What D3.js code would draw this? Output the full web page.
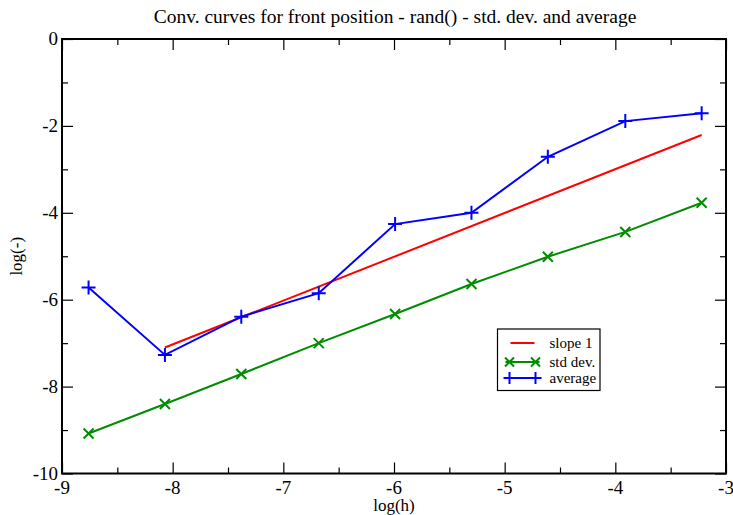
<!DOCTYPE html>
<html>
<head>
<meta charset="utf-8">
<script src="https://cdn.jsdelivr.net/npm/d3@7"></script>
<style>
  html, body { margin: 0; padding: 0; background: #fff; }
  svg text { font-family: "Liberation Serif", "Times New Roman", Tinos, "DejaVu Serif", serif; }
</style>
</head>
<body>
<div id="chart"></div>
<script>
// --- Daten ---
const logH = [-8.76, -8.07, -7.38, -6.68, -5.99, -5.30, -4.61, -3.91, -3.22];
const stdDev = [-9.08, -8.40, -7.71, -7.00, -6.33, -5.64, -5.01, -4.44, -3.77];
const average = [-5.72, -7.27, -6.39, -5.85, -4.26, -4.00, -2.71, -1.89, -1.71];
const slopeX = [-8.07, -3.22];
const slopeY = [-7.10, -2.21];
const xTicks = [-9, -8, -7, -6, -5, -4, -3];
const yTicks = [0, -2, -4, -6, -8, -10];

const W = 733, H = 515;
const m = { left: 62, right: 7, top: 39, bottom: 41.5 };
const FONT = '"Liberation Serif", "Times New Roman", Tinos, "DejaVu Serif", serif';

const svg = d3.select('#chart').append('svg')
  .attr('width', W).attr('height', H)
  .attr('font-family', FONT);

const x = d3.scaleLinear().domain([-9, -3]).range([m.left, W - m.right]);
const y = d3.scaleLinear().domain([-10, 0]).range([H - m.bottom, m.top]);

// Ticks (nach innen, alle vier Seiten)
const xMinor = d3.range(-8.5, -3, 1);
const yMinor = d3.range(-9, 0, 2);
const majorLen = 11, minorLen = 6;

function tickAxis(axisGen, transform) {
  svg.append('g').attr('transform', transform).call(axisGen)
    .call(g => g.select('.domain').remove())
    .call(g => g.selectAll('line').attr('stroke', '#000').attr('stroke-width', 1.2));
}

// unten / oben
tickAxis(d3.axisTop(x).tickValues(xTicks).tickSize(majorLen).tickFormat(''), `translate(0,${y(-10)})`);
tickAxis(d3.axisTop(x).tickValues(xMinor).tickSize(minorLen).tickFormat(''), `translate(0,${y(-10)})`);
tickAxis(d3.axisBottom(x).tickValues(xTicks).tickSize(majorLen).tickFormat(''), `translate(0,${y(0)})`);
tickAxis(d3.axisBottom(x).tickValues(xMinor).tickSize(minorLen).tickFormat(''), `translate(0,${y(0)})`);
// links / rechts
tickAxis(d3.axisRight(y).tickValues(yTicks).tickSize(majorLen).tickFormat(''), `translate(${x(-9)},0)`);
tickAxis(d3.axisRight(y).tickValues(yMinor).tickSize(minorLen).tickFormat(''), `translate(${x(-9)},0)`);
tickAxis(d3.axisLeft(y).tickValues(yTicks).tickSize(majorLen).tickFormat(''), `translate(${x(-3)},0)`);
tickAxis(d3.axisLeft(y).tickValues(yMinor).tickSize(minorLen).tickFormat(''), `translate(${x(-3)},0)`);

// Tick-Beschriftungen
svg.append('g').selectAll('text').data(xTicks).enter().append('text')
  .attr('x', d => x(d)).attr('y', y(-10) + 20)
  .attr('text-anchor', 'middle').attr('font-size', 19)
  .text(d => d);

svg.append('g').selectAll('text').data(yTicks).enter().append('text')
  .attr('x', x(-9) - 4).attr('y', d => y(d) + 6)
  .attr('text-anchor', 'end').attr('font-size', 19)
  .text(d => d);

// Rahmen
svg.append('rect')
  .attr('x', x(-9)).attr('y', y(0))
  .attr('width', x(-3) - x(-9)).attr('height', y(-10) - y(0))
  .attr('fill', 'none').attr('stroke', '#000').attr('stroke-width', 2);

// Titel und Achsentitel
svg.append('text').attr('x', 395).attr('y', 23)
  .attr('text-anchor', 'middle').attr('font-size', 19.5)
  .text('Conv. curves for front position - rand() - std. dev. and average');

svg.append('text').attr('x', 394).attr('y', 511)
  .attr('text-anchor', 'middle').attr('font-size', 17)
  .text('log(h)');

svg.append('text')
  .attr('transform', `translate(22,${(y(0) + y(-10)) / 2}) rotate(-90)`)
  .attr('text-anchor', 'middle').attr('font-size', 17)
  .text('log(-)');

// --- Linien ---
const line = d3.line().x(d => x(d[0])).y(d => y(d[1]));

svg.append('path')
  .datum(d3.zip(slopeX, slopeY))
  .attr('d', line).attr('fill', 'none')
  .attr('stroke', '#ff0000').attr('stroke-width', 2);

svg.append('path')
  .datum(d3.zip(logH, stdDev))
  .attr('d', line).attr('fill', 'none')
  .attr('stroke', '#008c00').attr('stroke-width', 2);

svg.append('path')
  .datum(d3.zip(logH, average))
  .attr('d', line).attr('fill', 'none')
  .attr('stroke', '#0000ff').attr('stroke-width', 2);

// Marker
function crossMarker(sel, r, color) {
  sel.append('path')
    .attr('d', `M${-r},${-r}L${r},${r}M${-r},${r}L${r},${-r}`)
    .attr('stroke', color).attr('stroke-width', 2);
}
function plusMarker(sel, r, color) {
  sel.append('path')
    .attr('d', `M${-r},0L${r},0M0,${-r}L0,${r}`)
    .attr('stroke', color).attr('stroke-width', 2);
}

svg.append('g').selectAll('g').data(d3.zip(logH, stdDev)).enter().append('g')
  .attr('transform', d => `translate(${x(d[0])},${y(d[1])})`)
  .each(function () { crossMarker(d3.select(this), 5, '#008c00'); });

svg.append('g').selectAll('g').data(d3.zip(logH, average)).enter().append('g')
  .attr('transform', d => `translate(${x(d[0])},${y(d[1])})`)
  .each(function () { plusMarker(d3.select(this), 7, '#0000ff'); });

// --- Legende ---
const lg = svg.append('g').attr('transform', 'translate(497.5,329)');
lg.append('rect').attr('width', 102.5).attr('height', 61.5)
  .attr('fill', '#fff').attr('stroke', '#000').attr('stroke-width', 1.2);

const legendItems = [
  { label: 'slope 1', color: '#ff0000', mark: null, yy: 14 },
  { label: 'std dev.', color: '#008c00', mark: crossMarker, yy: 33 },
  { label: 'average', color: '#0000ff', mark: plusMarker, yy: 49 }
];
legendItems.forEach(it => {
  const wide = it.mark ? [8, 42] : [13, 37];
  lg.append('line').attr('x1', wide[0]).attr('x2', wide[1])
    .attr('y1', it.yy).attr('y2', it.yy)
    .attr('stroke', it.color).attr('stroke-width', 2);
  if (it.mark) {
    [wide[0] + 4, wide[1] - 4].forEach(px => {
      const gm = lg.append('g').attr('transform', `translate(${px},${it.yy})`);
      it.mark(gm, it.mark === plusMarker ? 6 : 4.5, it.color);
    });
  }
  lg.append('text').attr('x', 52).attr('y', it.yy + 5)
    .attr('font-size', 15).text(it.label);
});
</script>
</body>
</html>
